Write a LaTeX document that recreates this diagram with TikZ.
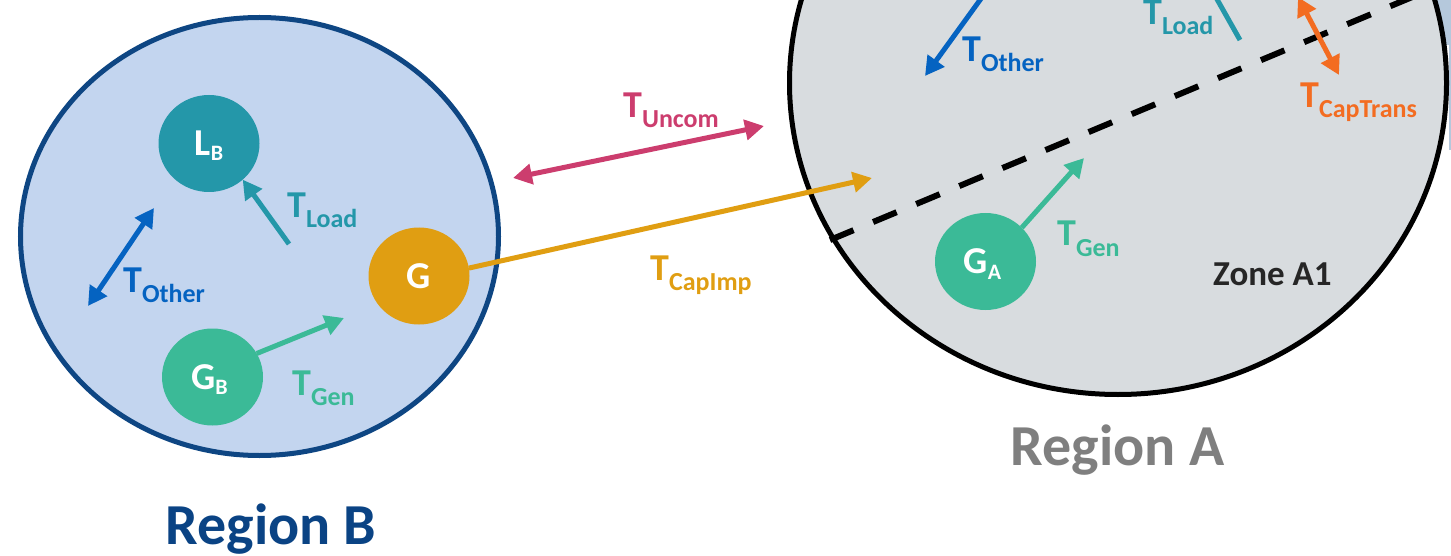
\documentclass[tikz,border=0pt]{standalone}
\usepackage{fontspec}
\setmainfont{Carlito}
\usetikzlibrary{arrows.meta,shapes.geometric}

\definecolor{regBfill}{HTML}{C3D5EF}
\definecolor{regBline}{HTML}{0E4683}
\definecolor{regAfill}{HTML}{D8DCDF}
\definecolor{nbrfill}{HTML}{B5C8DC}
\definecolor{loadteal}{HTML}{2497A9}
\definecolor{genorange}{HTML}{E09E12}
\definecolor{gengreen}{HTML}{3BBA97}
\definecolor{otherblue}{HTML}{0563C1}
\definecolor{uncompink}{HTML}{CC3D6E}
\definecolor{transorange}{HTML}{F36C21}
\definecolor{regBtext}{HTML}{0A4384}
\definecolor{regAtext}{HTML}{7F7F7F}
\definecolor{zonetext}{HTML}{262626}

% flow symbol T with a lowered subscript
\newcommand{\tflow}[1]{T\raisebox{-10pt}{\fontsize{26}{26}\selectfont #1}}
% agent symbol with a small lowered subscript
\newcommand{\agentsub}[3]{#1\raisebox{-#3}{\fontsize{22}{22}\selectfont #2}}

\begin{document}
\begin{tikzpicture}[x=1pt,y=-1pt,
  region/.style={ellipse, inner sep=0pt, outer sep=0pt, line width=5pt},
  agent/.style={ellipse, inner sep=0pt, outer sep=0pt,
    minimum width=101pt, minimum height=97pt, text=white,
    font=\fontsize{38}{38}\selectfont\bfseries,
    text height=24pt, text depth=0pt},
  tlabel/.style={anchor=base west, inner sep=0pt,
    font=\fontsize{38}{38}\selectfont\bfseries},
  flowtip/.tip={Triangle[length=19pt,width=20pt]},
  flow/.style={line width=5pt, -flowtip},
  biflow/.style={line width=5pt, flowtip-flowtip},
]
\useasboundingbox (0,0) rectangle (1451,556);
\clip (0,0) rectangle (1451,556);

% neighbouring region peeking in at the right edge
\fill[nbrfill] (1400,0) -- (1460,0) -- (1460,150) -- (1449,150)
  -- (1449,45) -- (1400,39) -- cycle;

% regions
\node[region, draw=black, fill=regAfill,
  minimum width=657pt, minimum height=623pt] (regA) at (1118,83) {};
\node[region, draw=regBline, fill=regBfill,
  minimum width=478pt, minimum height=438pt] (regB) at (259.5,236.5) {};

% zone boundary inside region A
\coordinate (zoneS) at (830,240);
\coordinate (zoneE) at (1425,-8.3);
\draw[line width=6pt, dash pattern=on 25.5pt off 21.2pt] (zoneS) -- (zoneE);

% agents
\node[agent, fill=loadteal] (LB) at (209,143.5) {\agentsub{L}{B}{5pt}};
\node[agent, fill=genorange] (G) at (419,276) {G};
\node[agent, fill=gengreen] (GB) at (212.5,377) {\agentsub{G}{B}{5pt}\hspace*{6pt}};
\node[agent, fill=gengreen] (GA) at (985.5,261.5) {\agentsub{G}{A}{6pt}\hspace*{6pt}};

% flows within region B
\coordinate (bOth1) at (88,306);
\coordinate (bOth2) at (154,208);
\draw[biflow, otherblue] (bOth1) -- (bOth2);
\coordinate (bLoadS) at (289,244);
\draw[flow, loadteal] (bLoadS) -- (LB.-47);
\coordinate (bGenE) at (344,318);
\draw[flow, gengreen] (GB.28) -- (bGenE);

% flows between regions
\coordinate (unc1) at (513,178);
\coordinate (unc2) at (764,126);
\draw[biflow, uncompink] (unc1) -- (unc2);
\coordinate (impE) at (872,178);
\draw[flow, genorange] (G.9) -- (impE);

% flows within region A
\coordinate (aGenE) at (1084,158);
\draw[flow, gengreen] (GA.43) -- (aGenE);
\coordinate (aOth1) at (925,76);
\coordinate (aOth2) at (1035,-76);
\draw[biflow, otherblue] (aOth1) -- (aOth2);
\coordinate (aLoadS) at (1240,40);
\coordinate (aLoadE) at (1196,-38);
\draw[flow, loadteal] (aLoadS) -- (aLoadE);
\coordinate (trans1) at (1298,-3);
\coordinate (trans2) at (1339,75);
\draw[biflow, transorange] (trans1) -- (trans2);

% flow labels
\node[tlabel, text=otherblue] (lbOther) at (123,292) {\tflow{Other}};
\node[tlabel, text=loadteal] (lbLoad) at (287,218) {\tflow{Load}};
\node[tlabel, text=gengreen] (lbGen) at (292,395) {\tflow{Gen}};
\node[tlabel, text=uncompink] (lUncom) at (623,118) {\tflow{Uncom}};
\node[tlabel, text=genorange] (lCapImp) at (650,280) {\tflow{CapImp}};
\node[tlabel, text=gengreen] (laGen) at (1057,246) {\tflow{Gen}};
\node[tlabel, text=otherblue] (laOther) at (962,62) {\tflow{Other}};
\node[tlabel, text=loadteal] (laLoad) at (1143,25) {\tflow{Load}};
\node[tlabel, text=transorange] (lCapTrans) at (1300,108) {\tflow{CapTrans}};

% region and zone names
\node[anchor=base west, inner sep=0pt, text=zonetext,
  font=\fontsize{35}{35}\selectfont\bfseries] (zoneA1) at (1213,285) {Zone A1};
\node[anchor=base, inner sep=0pt, text=regAtext,
  font=\fontsize{58}{58}\selectfont\bfseries] (nameA) at (1117.5,465) {Region A};
\node[anchor=base, inner sep=0pt, text=regBtext,
  font=\fontsize{58}{58}\selectfont\bfseries] (nameB) at (271,544) {Region B};
\end{tikzpicture}
\end{document}
